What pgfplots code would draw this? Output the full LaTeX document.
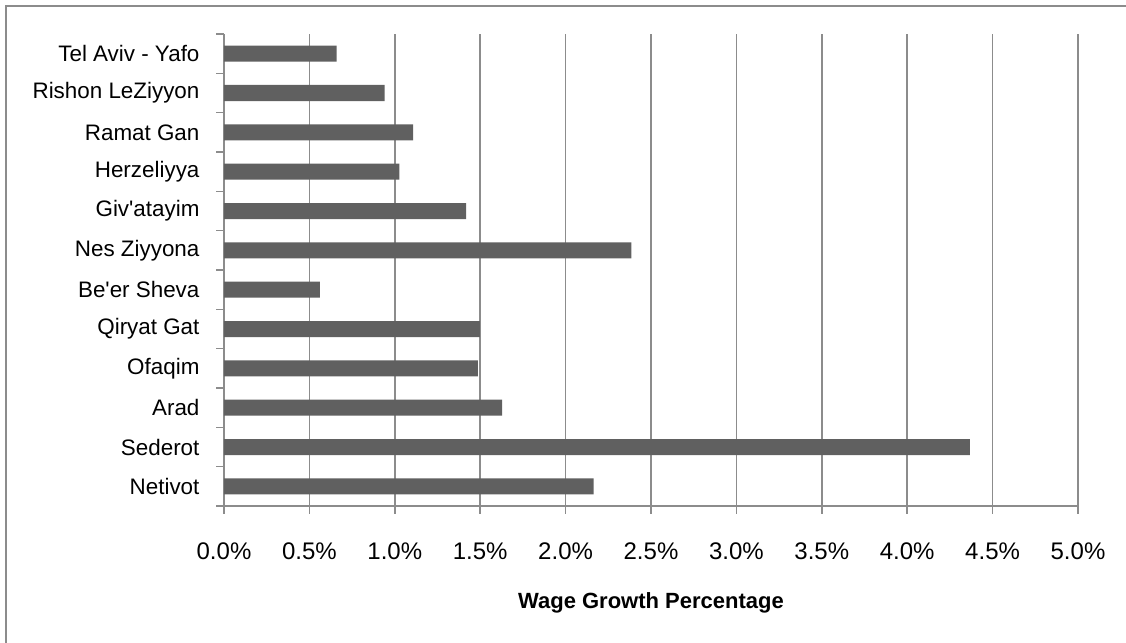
\documentclass[border=0pt]{standalone}
\usepackage{pgfplots}
\pgfplotsset{compat=1.18}
\usepackage{fontspec}
\setmainfont{Liberation Sans}
\definecolor{gridgray}{RGB}{140,140,140}
\definecolor{bargray}{RGB}{96,96,96}
\begin{document}
\begin{tikzpicture}
\useasboundingbox (-112pt,-68.5pt) rectangle (451pt,253pt);
\draw[gridgray, line width=0.9pt] (-109pt,-80pt) rectangle (460pt,250pt);
\begin{axis}[
  at={(0,0)}, anchor=south west,
  scale only axis,
  width=427pt, height=236pt,
  xbar, bar width=8pt,
  xmin=0, xmax=5, ymin=-0.5, ymax=11.5,
  axis x line*=bottom, axis y line*=left,
  axis line style={draw=gridgray, line width=0.75pt, -},
  tick align=outside,
  major tick length=3.75pt,
  tick style={draw=gridgray, line width=0.75pt},
  xtick={0,0.5,...,5},
  xmajorgrids,
  major grid style={draw=gridgray, line width=0.75pt},
  /pgf/number format/assume math mode=true,
  xticklabel={\pgfmathprintnumber[fixed,fixed zerofill,precision=1]{\tick}\%},
  xticklabel style={font=\fontsize{12}{14}\selectfont, yshift=-11pt},
  ytick={-0.5,0.5,...,11.5},
  yticklabels={},
  extra y ticks={0,1,2,3,4,5,6,7,8,9,10,11},
  extra y tick labels={Netivot,Sederot,Arad,Ofaqim,Qiryat Gat,Be\textquotesingle er Sheva,Nes Ziyyona,Giv\textquotesingle atayim,Herzeliyya,Ramat Gan,Rishon LeZiyyon,Tel Aviv - Yafo},
  extra y tick style={tick style={draw=none}, yticklabel style={font=\fontsize{11.2}{13}\selectfont, anchor=east, xshift=-5pt}},
  xlabel={\textbf{Wage Growth Percentage}},
  xlabel style={font=\fontsize{11}{13}\selectfont, at={(axis description cs:0.5,0)}, anchor=center, yshift=-48.5pt},
]
\addplot[fill=bargray, draw=none] coordinates {
(2.164,0) (4.367,1) (1.628,2) (1.486,3) (1.498,4) (0.561,5) (2.385,6) (1.418,7) (1.027,8) (1.107,9) (0.94,10) (0.66,11)
};
\end{axis}
\end{tikzpicture}
\end{document}
